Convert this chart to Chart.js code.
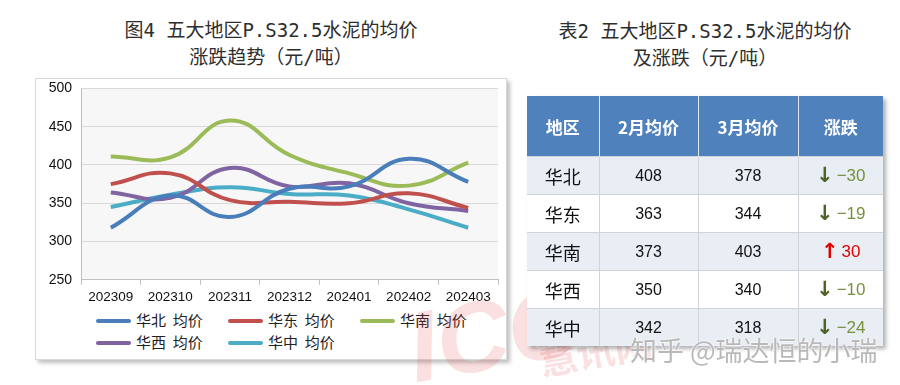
<!DOCTYPE html>
<html>
<head>
<meta charset="utf-8">
<script src="https://cdn.jsdelivr.net/npm/chart.js@4.4.1/dist/chart.umd.min.js"></script>
<style>
  body { margin: 0; width: 900px; height: 385px; background: #fff; position: relative; overflow: hidden;
         font-family: "Noto Sans CJK SC", "Noto Sans", sans-serif; }
  .title { position: absolute; text-align: center; font-size: 19px; line-height: 27px; color: #2e2e2e;
           font-family: "DejaVu Sans Mono", "Noto Sans CJK SC", monospace; }
  #chart-box { position: absolute; left: 35px; top: 78px; width: 470px; height: 280px;
               border: 1px solid #d9d9d9; box-shadow: 3px 3px 4px rgba(0,0,0,0.25); background: #fff; }
  #chart-wrap { position: absolute; left: 0; top: -8px; width: 470px; height: 238px; }
  #legend { position: absolute; left: 0; top: 231px; width: 470px; }
  .lg { position: absolute; font-size: 15px; color: #222; height: 20px; line-height: 20px; white-space: pre; }
  .lg i { display: inline-block; width: 35px; height: 4px; border-radius: 2px; vertical-align: middle; margin-right: 5px; margin-top: -2px; }
  table { position: absolute; z-index: 2; left: 527px; top: 96px; width: 356px; table-layout: fixed; border-collapse: collapse;
          box-shadow: 3px 3px 4px rgba(0,0,0,0.3); }
  th { background: #4f81bd; color: #fff; font-weight: bold; font-size: 17px; height: 60px; padding: 0; border-right: 1px solid #dfe6f0; }
  td { font-size: 16px; font-family: "Liberation Sans", Arial, sans-serif; text-align: center; height: 37px; padding: 0;
       line-height: 20px; border-right: 1px solid #d0d4da; border-top: 1px solid #d0d4da; color: #111; background: #fff; }
  td.rg { font-family: "Noto Sans CJK SC", sans-serif; font-size: 18px; }
  tr.odd td { background: #e9edf4; }
  .dn { color: #76923c; font-size: 17px; }
  .dn b { color: #4f6228; margin-right: 3px; font-family: "DejaVu Sans", sans-serif; font-size: 21px; vertical-align: -1px; }
  .up { color: #e00000; font-size: 17px; }
  .up b { margin-right: 3px; font-family: "DejaVu Sans", sans-serif; font-size: 21px; vertical-align: -1px; }
  .wm { position: absolute; z-index: 3; font-size: 27px; color: #b9b9b9; text-shadow: 0 0 2px #fff, 0 0 2px #fff; }
  .red { position: absolute; z-index: 1; color: rgba(225, 70, 70, 0.17); font-weight: bold; font-family: "Liberation Sans", sans-serif; }
</style>
</head>
<body>
<div class="title" style="left:66px; top:17px; width:410px;">图4 五大地区P.S32.5水泥的均价<br>涨跌趋势（元/吨）</div>
<div class="title" style="left:520px; top:18px; width:370px;">表2 五大地区P.S32.5水泥的均价<br>及涨跌（元/吨）</div>

<div id="chart-box">
  <div id="chart-wrap"><canvas id="priceChart"></canvas></div>
  <div id="legend"></div>
</div>

<table id="price-table"></table>

<div class="red" style="left:408px; top:276px; font-size:100px; font-style:italic; transform:rotate(-10deg);">ICC</div>
<div class="red" style="left:538px; top:322px; font-size:38px; font-family:'Noto Sans CJK SC'; transform:rotate(-10deg);">慧讯网</div>
<div class="wm" style="left:630px; top:330px;">知乎 @瑞达恒的小瑞</div>

<script>
const months = ['202309', '202310', '202311', '202312', '202401', '202402', '202403'];
const regionNames = ['华北', '华东', '华南', '华西', '华中'];
const colors = ['#4a7ebb', '#c0504d', '#9bbb59', '#8064a2', '#4bacc6'];

const north = [318, 360, 332, 369, 372, 408, 378];
const east = [375, 389, 354, 352, 350, 363, 344];
const south = [411, 410, 458, 413, 389, 373, 403];
const west = [364, 357, 396, 372, 376, 350, 340];
const central = [345, 361, 371, 362, 360, 342, 318];

const yTicks = [250, 300, 350, 400, 450, 500];

// table data
const febAvg = [408, 363, 373, 350, 342];
const marAvg = [378, 344, 403, 340, 318];
const changes = [-30, -19, 30, -10, -24];

const seriesList = [north, east, south, west, central];

const plotBg = {
  id: 'plotBg',
  beforeDraw(chart) {
    const { ctx, chartArea: a } = chart;
    ctx.save();
    ctx.fillStyle = '#f7f7f7';
    ctx.fillRect(a.left, a.top, a.width, a.height);
    ctx.restore();
  }
};

const ctx = document.getElementById('priceChart').getContext('2d');
const chart = new Chart(ctx, {
  type: 'line',
  data: {
    labels: months,
    datasets: seriesList.map((values, i) => ({
      label: regionNames[i] + '  均价',
      data: values,
      borderColor: colors[i],
      backgroundColor: colors[i],
      borderWidth: 4,
      pointRadius: 0,
      tension: 0.45,
      fill: false
    }))
  },
  options: {
    responsive: true,
    maintainAspectRatio: false,
    animation: false,
    layout: { padding: { top: 2, right: 8, left: 0, bottom: 0 } },
    plugins: {
      legend: { display: false },
      tooltip: { enabled: false }
    },
    scales: {
      x: {
        offset: true,
        grid: { offset: true, drawOnChartArea: false, drawTicks: true, tickLength: 5, color: '#bfbfbf' },
        border: { color: '#bfbfbf' },
        ticks: { color: '#111', padding: 4, maxRotation: 0, autoSkip: false,
                 font: { family: 'Liberation Sans, Arial', size: 13.5 } }
      },
      y: {
        min: 250,
        max: 500,
        afterBuildTicks(scale) { scale.ticks = yTicks.map(v => ({ value: v })); },
        afterFit(scale) { scale.width = 45; },
        grid: { color: '#d9d9d9', drawTicks: false },
        border: { color: '#bfbfbf' },
        ticks: { color: '#111', padding: 9, font: { family: 'Liberation Sans, Arial', size: 14 } }
      }
    }
  },
  plugins: [plotBg]
});

// legend laid out like the original (3 + 2 items)
const legendEl = document.getElementById('legend');
chart.data.datasets.forEach((ds, i) => {
  const item = document.createElement('div');
  item.className = 'lg';
  item.style.left = (60 + (i % 3) * 132) + 'px';
  item.style.top = (Math.floor(i / 3) * 22) + 'px';
  item.innerHTML = `<i style="background:${ds.borderColor}"></i>${ds.label}`;
  legendEl.appendChild(item);
});

function buildTable() {
  const table = document.getElementById('price-table');
  let html = `<colgroup><col style="width:72px"><col style="width:99px"><col style="width:100px"><col style="width:85px"></colgroup>
    <tr><th>地区</th><th>2月均价</th><th>3月均价</th><th style="border-right:none">涨跌</th></tr>`;
  regionNames.forEach((name, i) => {
    const c = changes[i];
    const cell = c < 0
      ? `<span class="dn"><b>↓</b>−${Math.abs(c)}</span>`
      : `<span class="up"><b>↑</b>${c}</span>`;
    html += `<tr class="${i % 2 === 0 ? 'odd' : ''}">
      <td class="rg">${name}</td><td>${febAvg[i]}</td><td>${marAvg[i]}</td><td style="border-right:none">${cell}</td></tr>`;
  });
  table.innerHTML = html;
}

buildTable();
</script>
</body>
</html>
